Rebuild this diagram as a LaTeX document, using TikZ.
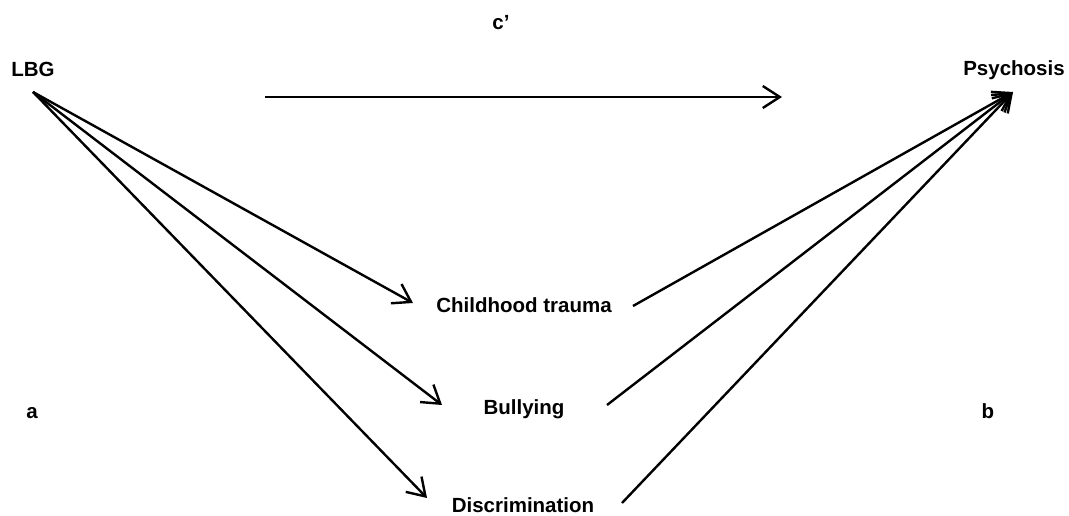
\documentclass[tikz,border=0pt]{standalone}
\usepackage{fontspec}
\setmainfont{Liberation Sans}
\usetikzlibrary{arrows.meta}
\begin{document}
\begin{tikzpicture}[x=1pt,y=-1pt,
  lbl/.style={font=\fontsize{20.5}{24}\selectfont\bfseries, inner sep=0pt, anchor=base},
  conn/.style={line width=2.4pt, -{Straight Barb[length=17pt,width=22pt,line width=2.4pt]}}]
\useasboundingbox (0,0) rectangle (1069,516);
% labels
\node[lbl] (lbg) at (33,77) {LBG};
\node[lbl] (psy) at (1014,76) {Psychosis};
\node[lbl] (ct) at (524,312) {Childhood trauma};
\node[lbl] (bu) at (524,414) {Bullying};
\node[lbl] (di) at (523,512) {Discrimination};
\node[lbl] (a) at (32,418) {a};
\node[lbl] (b) at (988,418) {b};
\node[lbl] (c) at (501,30) {c’};
% connector end points
\coordinate (lbgout) at (33,92);
\coordinate (psyin) at (1013,92);
\coordinate (cstart) at (265,97);
\coordinate (cend) at (782,97);
\coordinate (ctin) at (413,303);
\coordinate (buin) at (442,405);
\coordinate (diin) at (427,498);
\coordinate (ctout) at (633,306);
\coordinate (buout) at (607,405);
\coordinate (diout) at (622,503);
% connectors
\draw[conn] (cstart) -- (cend);
\draw[conn] (lbgout) -- (ctin);
\draw[conn] (lbgout) -- (buin);
\draw[conn] (lbgout) -- (diin);
\draw[conn] (ctout) -- (psyin);
\draw[conn] (buout) -- (psyin);
\draw[conn] (diout) -- (psyin);
\end{tikzpicture}
\end{document}
